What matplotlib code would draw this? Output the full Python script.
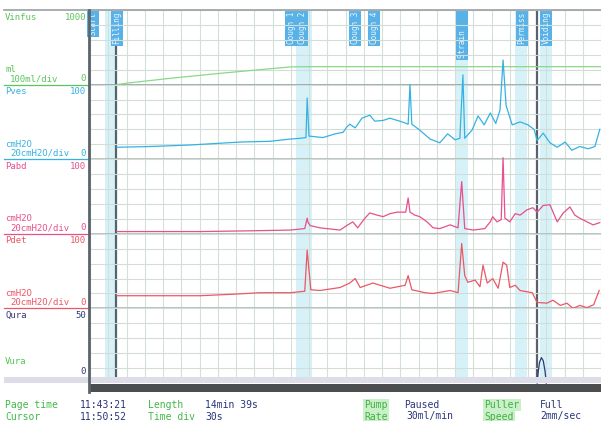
import matplotlib.pyplot as plt
from matplotlib.patches import Rectangle
from matplotlib.lines import Line2D

# page geometry (pixels of the 601x421 screenshot)
W, H = 601, 421
X0, X1 = 90, 601
Y0, Y1 = 10, 383
T_MAX = 840          # seconds on one page, 30 s per division
MONO = 'DejaVu Sans Mono'

# --- channel data (time in s) ---
vinfus_t = [44, 61, 136, 219, 291, 329, 345, 840]
vinfus_v = [0, 20, 88, 155, 209, 236, 240, 240]

pves_t = [44, 99, 164, 247, 296, 329, 345, 355, 357, 360, 383, 403, 416, 422, 427,
          436, 447, 460, 468, 482, 493, 513, 523, 526, 529, 542, 559, 575, 588, 600,
          608, 613, 616, 628, 638, 648, 658, 667, 674, 679, 684, 694, 707, 720, 730,
          735, 745, 756, 768, 781, 792, 805, 819, 830, 838]
pves_v = [16, 17, 19, 23, 24, 27, 28, 29, 82, 31, 29, 34, 36, 43, 47,
          42, 55, 59, 51, 52, 55, 50, 47, 100, 47, 39, 27, 22, 34, 26,
          28, 113, 28, 39, 58, 46, 62, 48, 66, 133, 72, 46, 50, 46, 40,
          25, 35, 22, 16, 23, 12, 17, 14, 17, 40]

pabd_t = [44, 181, 263, 329, 353, 357, 358, 362, 378, 411, 422, 432, 440, 452, 460,
          472, 482, 493, 505, 519, 523, 526, 534, 542, 554, 564, 575, 592, 605, 611,
          616, 630, 649, 658, 662, 669, 676, 679, 682, 690, 699, 707, 718, 728, 735,
          745, 756, 768, 778, 789, 797, 805, 817, 827, 838]
pabd_v = [3, 3, 4, 5, 7, 21, 16, 11, 8, 5, 11, 16, 8, 21, 28,
          25, 23, 27, 29, 29, 48, 29, 25, 23, 16, 8, 7, 12, 8, 70,
          7, 5, 7, 16, 23, 16, 19, 102, 21, 16, 27, 25, 32, 35, 29,
          38, 39, 16, 28, 36, 25, 21, 16, 12, 15]

pdet_t = [44, 181, 235, 279, 329, 353, 357, 360, 363, 378, 411, 427, 436, 444, 465,
          493, 518, 523, 529, 551, 564, 592, 605, 611, 616, 621, 633, 641, 646, 653,
          662, 671, 679, 685, 690, 699, 707, 727, 735, 751, 761, 773, 784, 794, 805,
          817, 828, 837]
pdet_v = [17, 17, 19, 21, 21, 23, 78, 51, 25, 24, 28, 34, 40, 28, 34,
          27, 31, 44, 25, 21, 20, 24, 21, 87, 44, 35, 38, 29, 58, 34,
          40, 27, 62, 58, 28, 31, 24, 21, 8, 7, 11, 4, 7, 0, 4,
          1, 5, 24]

qura_t = [735, 737, 739, 742, 745, 748, 750]
qura_v = [0, 8, 14, 17, 15, 8, 0]

chan_names = ['Vinfus', 'Pves', 'Pabd', 'Pdet', 'Qura']
chan_full = [1000, 100, 100, 100, 50]
chan_units = ['ml', 'cmH2O', 'cmH2O', 'cmH2O', '']
chan_div = ['100ml/div', '20cmH2O/div', '20cmH2O/div', '20cmH2O/div', '']
chan_colors = ['#5cc45c', '#36b2e2', '#e6508c', '#ea5866', '#2e3a78']
line_colors = ['#8ad88a', '#36b2e2', '#e6508c', '#ea5866', '#2e3a78']
chan_data = [(vinfus_t, vinfus_v), (pves_t, pves_v), (pabd_t, pabd_v),
             (pdet_t, pdet_v), (qura_t, qura_v)]

# event markers at the top and the shaded event bands
event_t = [5, 44, 331, 349, 436, 467, 612, 710, 750]
event_lbl = ['Start', 'Filling', 'Cough 1', 'Cough 2', 'Cough 3', 'Cough 4',
             'Strain    ', 'Permiss', 'Voiding']
band_spans = [(25, 44), (338, 365), (601, 622), (699, 718), (740, 760)]
cursor_t = [43, 735]

status_rows = [
    [('Page time', 5, False), ('11:43:21', 80, None), ('Length', 148, False),
     ('14min 39s', 205, None), ('Pump', 364, True), ('Paused', 404, None),
     ('Puller', 484, True), ('Full', 540, None)],
    [('Cursor', 5, False), ('11:50:52', 80, None), ('Time div', 148, False),
     ('30s', 205, None), ('Rate', 364, True), ('30ml/min', 406, None),
     ('Speed', 484, True), ('2mm/sec', 540, None)],
]


def fx(px):
    return px / W


def fy(py):
    return 1 - py / H


def ptext(x, y, s, color, ha='left', size=6.5, **kw):
    fig.text(fx(x), fy(y), s, color=color, ha=ha, va='center',
             fontsize=size, family=MONO, **kw)


fig = plt.figure(figsize=(W / 100, H / 100), dpi=100)
fig.patch.set_facecolor('white')

# background axes: vertical grid, event bands, cursors, markers
ax_bg = fig.add_axes([fx(X0), fy(Y1), (X1 - X0) / W, (Y1 - Y0) / H])
ax_bg.set_xlim(0, T_MAX)
ax_bg.set_ylim(0, 1)
ax_bg.set_xticks(range(0, T_MAX + 1, 30))
ax_bg.set_yticks([])
ax_bg.grid(axis='x', color='#d3e0d8', lw=0.8)
ax_bg.set_axisbelow(True)
ax_bg.tick_params(length=0, labelbottom=False)
for s in ax_bg.spines.values():
    s.set_visible(False)
for a, b in band_spans:
    ax_bg.axvspan(a, b, color='#d6f2f8', lw=0, zorder=0.2)
for t in cursor_t:
    ax_bg.axvline(t, color='#56636a', lw=1.6, zorder=1)
for t, lbl in zip(event_t, event_lbl):
    ax_bg.text(t, 0.995, lbl, rotation=90, ha='center', va='top', fontsize=5.5,
               family=MONO, color='#e8f6ff', zorder=6, clip_on=False,
               bbox=dict(boxstyle='square,pad=0.2', fc='#58b2e8', ec='none'))

# one axes per channel, stacked
ph = (Y1 - Y0) / len(chan_names)
for i, name in enumerate(chan_names):
    top = Y0 + i * ph
    bot = top + ph
    ax = fig.add_axes([fx(X0), fy(bot), (X1 - X0) / W, ph / H], facecolor='none')
    full = chan_full[i]
    ax.set_xlim(0, T_MAX)
    ax.set_ylim(0, full)
    ax.set_xticks([])
    ax.set_yticks([full * k / 5 for k in range(6)])
    ax.grid(axis='y', color='#d3ddd8', lw=0.8)
    ax.tick_params(length=0, labelleft=False, labelbottom=False)
    for s in ax.spines.values():
        s.set_visible(False)
    if i < len(chan_names) - 1:
        ax.axhline(0, color='#8e9c98' if i == 0 else '#aab4b2', lw=1.1, clip_on=False)
    t, v = chan_data[i]
    ax.plot(t, v, color=line_colors[i], lw=0.9, clip_on=False, zorder=3)

    # label panel on the left
    c = chan_colors[i]
    ptext(5, top + 7, name, c)
    ptext(86, top + 7, str(full), c, ha='right')
    if chan_units[i]:
        ptext(5, bot - 15, chan_units[i], c)
        ptext(10, bot - 6, chan_div[i], c)
        ptext(86, bot - 6, '0', c, ha='right')
        fig.add_artist(Line2D([fx(4), fx(88)], [fy(bot), fy(bot)], color=c, lw=0.9))

ptext(5, 361, 'Vura', '#54c454')
ptext(86, 372, '0', '#2e3a78', ha='right')

# frame, scroll bar and dark time bar
fig.add_artist(Line2D([fx(4), fx(601)], [fy(9.5), fy(9.5)], color='#9aa0a4', lw=1.2))
fig.add_artist(Line2D([fx(89), fx(89)], [fy(9.5), fy(392)], color='#5a646a', lw=2))
fig.add_artist(Rectangle((fx(4), fy(383)), fx(597), 6 / H, transform=fig.transFigure,
                         fc='#dcdde8', ec='none'))
fig.add_artist(Rectangle((fx(90), fy(392)), fx(511), 8 / H, transform=fig.transFigure,
                         fc='#4b4d4e', ec='none'))

# status bar
for r, row in enumerate(status_rows):
    y = 405 + r * 11.5
    for s, x, boxed in row:
        if boxed is None:
            ptext(x, y, s, '#2a3478', size=7)
        elif boxed:
            ptext(x, y, s, '#40b040', size=7,
                  bbox=dict(boxstyle='square,pad=0.15', fc='#c9f0c9', ec='none'))
        else:
            ptext(x, y, s, '#40b848', size=7)

fig.savefig('out.png', dpi=100)
